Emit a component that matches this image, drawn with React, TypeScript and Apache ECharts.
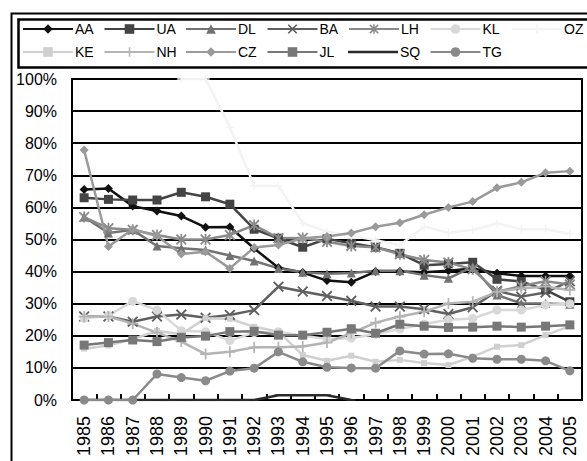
import React, { useEffect, useRef } from "react";
import * as echarts from "echarts";

const years = ["1985","1986","1987","1988","1989","1990","1991","1992","1993","1994","1995","1996","1997","1998","1999","2000","2001","2002","2003","2004","2005"];
const yTicks = [0, 10, 20, 30, 40, 50, 60, 70, 80, 90, 100];

const AA = [65.6, 65.9, 60.4, 58.9, 57.3, 53.8, 53.9, 47.2, 41.2, 39.7, 37.2, 36.7, 40, 40, 39.8, 40.3, 41, 39.5, 38.6, 38.6, 38.6];
const UA = [63, 62.5, 62.3, 62.3, 64.7, 63.3, 61, 53.2, 50.4, 47.6, 50.2, 48.8, 47.6, 45.7, 42, 42.4, 42.9, 37.6, 36.9, 34.3, 30.6];
const DL = [57, 52, 53, 48, 47.3, 46.7, 45, 43.3, 41, 39.8, 39.3, 39.6, 40.3, 40.3, 38.9, 37.9, 41.5, 32.7, 30.1, 30.1, 29.8];
const BA = [26, 26, 24.4, 26, 26.6, 25.6, 26.5, 28, 35.3, 33.8, 32.4, 30.9, 29.1, 29.1, 28.3, 26.8, 28.9, 34, 32.2, 33.5, 37];
const LH = [57, 53.5, 53, 51.4, 50, 50, 51.4, 54.5, 50.4, 50.5, 49.3, 48, 47.6, 45.4, 43.6, 42.8, 40.7, 33.7, 35.5, 37, 36];
const KL = [25.4, 26.3, 30.8, 28, 21.6, 21.3, 18.5, 21, 21.3, 20, 19, 19.3, 20.5, 22.1, 23.7, 25, 25.4, 28, 28, 29.6, 30];
const OZ = [null, null, null, null, 100, 100, 85, 66.7, 66.7, 55.1, 52.4, 51.2, 49.8, 48.3, 54, 52.1, 53, 55, 53.2, 53.2, 51.7];
const KE = [16, 17, 19, 21.5, 20.5, 25.5, 25.3, 22.8, 21.3, 14, 12.2, 13.8, 11.9, 12.5, 11.5, 10.9, 13.5, 16.6, 17.1, 20.2, 23];
const NH = [26, 26, 23.8, 21, 18.2, 14.3, 15, 16.4, 16.4, 16.7, 17.9, 20.8, 24.1, 26, 27.5, 30.1, 30.6, 33.7, 34.8, 35.3, 34.3];
const CZ = [77.9, 47.8, 53.2, 51.1, 45.5, 46.2, 41, 47.5, 48.3, 50.4, 50.9, 52, 54, 55.2, 57.7, 60, 61.8, 66.1, 67.8, 70.8, 71.3];
const JL = [17.1, 17.9, 18.7, 18.2, 19.5, 19.9, 21.3, 21.4, 20.2, 20.2, 21.1, 22.2, 20.8, 23.6, 23, 22.6, 22.7, 23, 22.7, 23, 23.4];
const SQ = [0, 0, 0, 0, 0, 0, 0, 0, 1.5, 1.5, 1.5, 0, null, null, null, null, null, null, null, null, null];
const TG = [0, 0, 0, 8.1, 7, 6, 9, 9.9, 15, 11.9, 10.2, 10, 9.9, 15.3, 14.3, 14.4, 13, 12.7, 12.7, 12.2, 9.1];

const X_SYM = "path://M0,1.2L1.2,0L5,3.8L8.8,0L10,1.2L6.2,5L10,8.8L8.8,10L5,6.2L1.2,10L0,8.8L3.8,5Z";
const AST_SYM = "path://M0,1.2L1.2,0L5,3.8L8.8,0L10,1.2L6.2,5L10,8.8L8.8,10L5,6.2L1.2,10L0,8.8L3.8,5Z M4.2,0H5.8V10H4.2Z";
const PLUS_SYM = "path://M4.2,0H5.8V4.2H10V5.8H5.8V10H4.2V5.8H0V4.2H4.2Z";
const DASH_SYM = "path://M0,0H10V2H0Z";
const SQ_LEGEND_ICON = "path://M0,0H50V0.01H0Z M0,4.8H50V7.2H0Z M0,11.99H50V12H0Z";

const seriesDefs = [
  { name: "AA", data: AA, color: "#111111", symbol: "diamond", size: 9 },
  { name: "UA", data: UA, color: "#444444", symbol: "rect", size: 9 },
  { name: "DL", data: DL, color: "#727272", symbol: "triangle", size: 9 },
  { name: "BA", data: BA, color: "#606060", symbol: X_SYM, size: 11 },
  { name: "LH", data: LH, color: "#8a8a8a", symbol: AST_SYM, size: 11 },
  { name: "KL", data: KL, color: "#d8d8d8", symbol: "circle", size: 9 },
  { name: "OZ", data: OZ, color: "#f3f3f3", symbol: PLUS_SYM, size: 8 },
  { name: "KE", data: KE, color: "#d0d0d0", symbol: "rect", size: 6 },
  { name: "NH", data: NH, color: "#b4b4b4", symbol: PLUS_SYM, size: 11 },
  { name: "CZ", data: CZ, color: "#9a9a9a", symbol: "diamond", size: 9 },
  { name: "JL", data: JL, color: "#777777", symbol: "rect", size: 9 },
  { name: "SQ", data: SQ, color: "#2a2a2a", symbol: DASH_SYM, size: 8 },
  { name: "TG", data: TG, color: "#8a8a8a", symbol: "circle", size: 9 },
];

const FONT = "'Liberation Sans', Arial, sans-serif";

export default function App() {
  const ref = useRef<HTMLDivElement>(null);
  useEffect(() => {
    if (!ref.current) return;
    const chart = echarts.init(ref.current, null, { renderer: "svg" });
    const legends = seriesDefs.map((s, i) => {
      const row = i < 7 ? 0 : 1;
      const col = i < 7 ? i : i - 7;
      const lg: any = {
        data: [s.name],
        left: 22 + col * 81.5,
        top: row === 0 ? 22 : 45,
        itemWidth: 50,
        itemHeight: 12,
        itemGap: 0,
        padding: 0,
        textStyle: { fontSize: 14, color: "#000", fontFamily: FONT, padding: [0, 0, 0, -3] },
      };
      if (s.name === "SQ") lg.icon = SQ_LEGEND_ICON;
      return lg;
    });
    chart.setOption({
      animation: false,
      backgroundColor: "#fff",
      textStyle: { fontFamily: FONT },
      graphic: [
        { type: "rect", left: 9, top: 11, shape: { width: 620, height: 500 }, style: { fill: "none", stroke: "#000", lineWidth: 2 }, z: -1 },
        { type: "rect", left: 16, top: 17, shape: { width: 620, height: 48 }, style: { fill: "none", stroke: "#000", lineWidth: 2.5 }, z: -1 },
      ],
      legend: legends,
      grid: { left: 72, top: 79, right: 5, bottom: 61, show: true, borderColor: "#000", borderWidth: 2, containLabel: false },
      xAxis: {
        type: "category",
        data: years,
        boundaryGap: true,
        axisLine: { lineStyle: { color: "#000", width: 2 } },
        axisTick: { show: true, inside: true, length: 6, lineStyle: { color: "#000", width: 2 } },
        axisLabel: { rotate: 90, fontSize: 18, color: "#000", margin: 16, fontFamily: FONT, interval: 0 },
      },
      yAxis: {
        type: "value",
        min: yTicks[0],
        max: yTicks[yTicks.length - 1],
        interval: 10,
        axisLine: { show: true, lineStyle: { color: "#000", width: 2 } },
        axisTick: { show: false },
        splitLine: { lineStyle: { color: "#000", width: 2 } },
        axisLabel: { formatter: "{value}%", fontSize: 16, color: "#000", margin: 15, fontFamily: FONT },
      },
      series: seriesDefs.map((s) => ({
        name: s.name,
        type: "line",
        data: s.data,
        symbol: s.symbol,
        symbolSize: s.size,
        symbolKeepAspect: true,
        showAllSymbol: true,
        connectNulls: false,
        lineStyle: { color: s.color, width: 2.5 },
        itemStyle: { color: s.color },
        emphasis: { disabled: true },
      })),
    });
    return () => chart.dispose();
  }, []);
  return <div ref={ref} style={{ position: "fixed", left: 0, top: 0, width: 587, height: 461 }} />;
}
